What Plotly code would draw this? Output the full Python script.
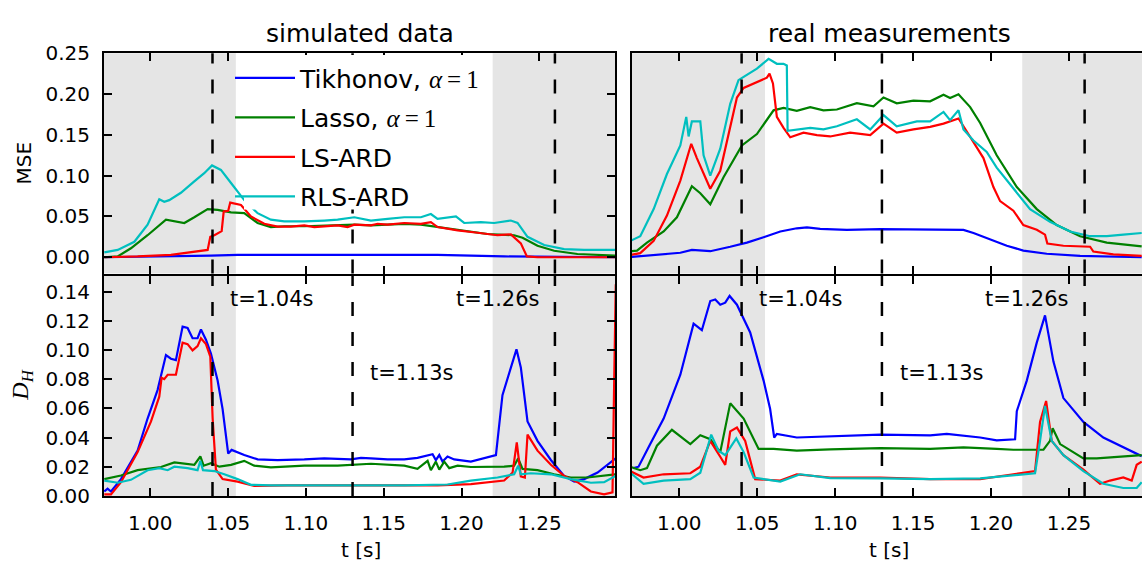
import plotly.graph_objects as go

# ---------------- data ----------------
# simulated data, MSE
sim_mse_tik_t = [0.9705, 1.0133, 1.0390, 1.0561, 1.1204, 1.1846, 1.2274, 1.2991]
sim_mse_tik_v = [0.0, 0.001, 0.002, 0.003, 0.003, 0.003, 0.001, 0.0]

sim_mse_las_t = [0.9705, 0.9791, 0.9876, 0.9983, 1.0101, 1.0155, 1.0219, 1.0283, 1.0369, 1.0433,
                 1.0519, 1.0604, 1.0690, 1.0775, 1.0861, 1.0990, 1.1118, 1.1204, 1.1311, 1.1418,
                 1.1525, 1.1632, 1.1739, 1.1846, 1.2017, 1.2167, 1.2338, 1.2392, 1.2488, 1.2595,
                 1.2745, 1.2991]
sim_mse_las_v = [0.000, 0.001, 0.011, 0.027, 0.046, 0.044, 0.042, 0.049, 0.059, 0.058,
                 0.055, 0.054, 0.042, 0.037, 0.038, 0.038, 0.039, 0.039, 0.040, 0.039,
                 0.040, 0.041, 0.040, 0.037, 0.032, 0.0285, 0.027, 0.024, 0.014, 0.008,
                 0.004, 0.002]

sim_mse_ls_t = [0.9705, 0.9919, 1.0133, 1.0262, 1.0369, 1.0386, 1.0412, 1.0459, 1.0472, 1.0501,
                1.0514, 1.0583, 1.0647, 1.0733, 1.0818, 1.0904, 1.0990, 1.1054, 1.1118, 1.1204,
                1.1268, 1.1311, 1.1418, 1.1461, 1.1525, 1.1632, 1.1739, 1.1803, 1.1846, 1.1975,
                1.2103, 1.2231, 1.2317, 1.2381, 1.2420, 1.2488, 1.2991]
sim_mse_ls_v = [0.000, 0.001, 0.003, 0.006, 0.009, 0.025, 0.027, 0.032, 0.056, 0.057,
                0.067, 0.064, 0.050, 0.041, 0.0375, 0.0375, 0.039, 0.037, 0.038, 0.039,
                0.037, 0.040, 0.039, 0.041, 0.040, 0.042, 0.041, 0.043, 0.037, 0.033,
                0.030, 0.027, 0.028, 0.017, 0.001, 0.000, 0.000]

sim_mse_rls_t = [0.9705, 0.9791, 0.9898, 0.9983, 1.0058, 1.0090, 1.0122, 1.0197, 1.0283, 1.0347,
                 1.0397, 1.0454, 1.0519, 1.0604, 1.0690, 1.0775, 1.0861, 1.0990, 1.1118, 1.1204,
                 1.1311, 1.1418, 1.1525, 1.1632, 1.1739, 1.1803, 1.1846, 1.1964, 1.2017, 1.2124,
                 1.2210, 1.2317, 1.2360, 1.2424, 1.2531, 1.2659, 1.2788, 1.2991]
sim_mse_rls_v = [0.006, 0.009, 0.019, 0.040, 0.071, 0.068, 0.070, 0.079, 0.093, 0.103,
                 0.1125, 0.107, 0.091, 0.070, 0.054, 0.046, 0.044, 0.044, 0.045, 0.046,
                 0.049, 0.045, 0.047, 0.049, 0.049, 0.053, 0.047, 0.050, 0.042, 0.043,
                 0.042, 0.045, 0.042, 0.025, 0.015, 0.010, 0.009, 0.009]

# simulated data, D_H
sim_dh_tik_t = [0.9705, 0.9726, 0.9748, 0.9812, 0.9919, 0.9983, 1.0047, 1.0101, 1.0133, 1.0165,
                1.0208, 1.0240, 1.0272, 1.0304, 1.0326, 1.0358, 1.0390, 1.0433, 1.0465, 1.0501,
                1.0523, 1.0604, 1.0690, 1.0818, 1.0990, 1.1118, 1.1289, 1.1354, 1.1418, 1.1525,
                1.1632, 1.1717, 1.1814, 1.1835, 1.1857, 1.1878, 1.1910, 1.1953, 1.2060, 1.2146,
                1.2221, 1.2263, 1.2317, 1.2353, 1.2381, 1.2424, 1.2488, 1.2574, 1.2659, 1.2724,
                1.2788, 1.2874, 1.2991]
sim_dh_tik_v = [0.003, 0.005, 0.003, 0.0115, 0.031, 0.053, 0.0725, 0.0965, 0.094, 0.093,
                0.116, 0.115, 0.108, 0.108, 0.114, 0.107, 0.0975, 0.079, 0.0595, 0.029,
                0.0315, 0.028, 0.025, 0.0245, 0.025, 0.0257, 0.025, 0.026, 0.0257, 0.025,
                0.025, 0.026, 0.0285, 0.0245, 0.028, 0.0235, 0.027, 0.025, 0.0235, 0.026,
                0.028, 0.069, 0.088, 0.1004, 0.088, 0.051, 0.0377, 0.0246, 0.0137, 0.0098,
                0.0115, 0.016, 0.0257]

sim_dh_las_t = [0.9705, 0.9812, 0.9919, 1.0005, 1.0069, 1.0155, 1.0219, 1.0283, 1.0322, 1.0343,
                1.0390, 1.0444, 1.0519, 1.0604, 1.0668, 1.0775, 1.0990, 1.1204, 1.1418, 1.1632,
                1.1717, 1.1782, 1.1803, 1.1835, 1.1857, 1.1889, 1.1921, 1.1975, 1.2060, 1.2274,
                1.2338, 1.2364, 1.2392, 1.2488, 1.2595, 1.2702, 1.2809, 1.2991]
sim_dh_las_v = [0.0115, 0.014, 0.0176, 0.019, 0.0198, 0.0229, 0.022, 0.0213, 0.027, 0.0207,
                0.0224, 0.020, 0.0213, 0.024, 0.0207, 0.0196, 0.0207, 0.0207, 0.022, 0.0207,
                0.0185, 0.024, 0.0176, 0.0235, 0.018, 0.0235, 0.019, 0.0207, 0.0198, 0.020,
                0.0207, 0.0257, 0.0185, 0.0176, 0.0148, 0.0126, 0.0126, 0.0148]

sim_dh_ls_t = [0.9705, 0.9748, 0.9812, 0.9919, 1.0005, 1.0058, 1.0073, 1.0090, 1.0112, 1.0165,
               1.0208, 1.0240, 1.0272, 1.0304, 1.0326, 1.0358, 1.0386, 1.0401, 1.0422, 1.0465,
               1.0561, 1.0668, 1.0882, 1.1204, 1.1632, 1.1846, 1.2060, 1.2210, 1.2274, 1.2328,
               1.2355, 1.2381, 1.2407, 1.2424, 1.2488, 1.2574, 1.2659, 1.2745, 1.2831, 1.2916,
               1.2970, 1.2981, 1.2991]
sim_dh_ls_v = [0.001, 0.001, 0.0094, 0.030, 0.051, 0.068, 0.081, 0.080, 0.083, 0.083,
               0.105, 0.104, 0.0997, 0.1026, 0.108, 0.104, 0.0954, 0.053, 0.018, 0.0115,
               0.0098, 0.0068, 0.0072, 0.0072, 0.0072, 0.0072, 0.008, 0.0094, 0.0105, 0.016,
               0.0366, 0.0133, 0.0126, 0.042, 0.031, 0.0213, 0.0137, 0.0094, 0.003, 0.001,
               0.0024, 0.08, 0.145]

sim_dh_rls_t = [0.9705, 0.9791, 0.9876, 0.9983, 1.0058, 1.0112, 1.0155, 1.0240, 1.0304, 1.0322,
                1.0339, 1.0412, 1.0476, 1.0561, 1.0647, 1.0775, 1.1204, 1.1632, 1.1910, 1.2060,
                1.2231, 1.2338, 1.2364, 1.2381, 1.2445, 1.2574, 1.2702, 1.2831, 1.2916, 1.2991]
sim_dh_rls_v = [0.0105, 0.009, 0.011, 0.0176, 0.019, 0.0176, 0.020, 0.019, 0.0176, 0.024,
                0.0176, 0.017, 0.0148, 0.0115, 0.0076, 0.0072, 0.0072, 0.0072, 0.0078, 0.0105,
                0.0126, 0.0148, 0.0207, 0.0148, 0.0155, 0.0148, 0.0115, 0.009, 0.0094, 0.0137]

# real measurements, MSE
real_mse_tik_t = [0.9686, 0.9900, 1.0007, 1.0081, 1.0199, 1.0327, 1.0434, 1.0541, 1.0648, 1.0754,
                  1.0819, 1.0904, 1.1075, 1.1289, 1.1502, 1.1823, 1.1887, 1.1994, 1.2101, 1.2207,
                  1.2357, 1.2571, 1.2966]
real_mse_tik_v = [0.0004, 0.0035, 0.0055, 0.009, 0.0074, 0.0129, 0.018, 0.0246, 0.0316, 0.0355,
                  0.0367, 0.0348, 0.0336, 0.0344, 0.0344, 0.0336, 0.0297, 0.0219, 0.0141, 0.0082,
                  0.0043, 0.0016, 0.0]

real_mse_las_t = [0.9686, 0.9729, 0.9793, 0.9900, 0.9985, 1.0081, 1.0135, 1.0199, 1.0284, 1.0402,
                  1.0498, 1.0605, 1.0669, 1.0754, 1.0840, 1.0925, 1.1011, 1.1139, 1.1246, 1.1310,
                  1.1395, 1.1502, 1.1609, 1.1695, 1.1737, 1.1791, 1.1866, 1.1930, 1.2036, 1.2165,
                  1.2293, 1.2421, 1.2571, 1.2742, 1.2966]
real_mse_las_v = [0.0074, 0.0082, 0.018, 0.0316, 0.049, 0.087, 0.0785, 0.065, 0.098, 0.137,
                  0.151, 0.180, 0.183, 0.1793, 0.184, 0.180, 0.181, 0.1887, 0.185, 0.1957,
                  0.1887, 0.1918, 0.191, 0.199, 0.195, 0.1996, 0.184, 0.1645, 0.125, 0.086,
                  0.059, 0.0395, 0.0258, 0.018, 0.0133]

real_mse_ls_t = [0.9686, 0.9750, 0.9836, 0.9921, 1.0007, 1.0077, 1.0113, 1.0199, 1.0263, 1.0327,
                 1.0370, 1.0413, 1.0498, 1.0562, 1.0579, 1.0601, 1.0626, 1.0669, 1.0712, 1.0797,
                 1.0883, 1.0968, 1.1096, 1.1225, 1.1310, 1.1395, 1.1502, 1.1609, 1.1695, 1.1791,
                 1.1823, 1.1887, 1.1951, 1.2015, 1.2058, 1.2143, 1.2207, 1.2293, 1.2346, 1.2361,
                 1.2464, 1.2635, 1.2656, 1.2784, 1.2966]
real_mse_ls_v = [0.003, 0.005, 0.020, 0.051, 0.094, 0.139, 0.1215, 0.084, 0.106, 0.1605,
                 0.1957, 0.2074, 0.215, 0.22, 0.225, 0.213, 0.172, 0.1586, 0.147, 0.1527,
                 0.1496, 0.148, 0.1527, 0.1496, 0.1637, 0.1527, 0.1566, 0.1598, 0.1637, 0.170,
                 0.1605, 0.141, 0.1215, 0.086, 0.0688, 0.057, 0.0395, 0.0336, 0.0277, 0.0168,
                 0.0141, 0.0129, 0.007, 0.0035, 0.0016]

real_mse_rls_t = [0.9686, 0.9750, 0.9836, 0.9921, 1.0007, 1.0045, 1.0060, 1.0081, 1.0135, 1.0156,
                  1.0199, 1.0263, 1.0327, 1.0380, 1.0413, 1.0498, 1.0573, 1.0626, 1.0669, 1.0690,
                  1.0695, 1.0754, 1.0840, 1.0925, 1.1011, 1.1139, 1.1225, 1.1310, 1.1395, 1.1524,
                  1.1609, 1.1695, 1.1737, 1.1791, 1.1823, 1.1887, 1.1972, 1.2036, 1.2101, 1.2165,
                  1.2250, 1.2378, 1.2507, 1.2635, 1.2742, 1.2848, 1.2966]
real_mse_rls_v = [0.020, 0.0258, 0.059, 0.102, 0.137, 0.172, 0.148, 0.1664, 0.1664, 0.125,
                  0.100, 0.133, 0.188, 0.217, 0.221, 0.231, 0.243, 0.237, 0.237, 0.235,
                  0.155, 0.1566, 0.1586, 0.1566, 0.1605, 0.169, 0.1566, 0.1742, 0.1605, 0.1664,
                  0.1664, 0.178, 0.168, 0.180, 0.1566, 0.143, 0.129, 0.1098, 0.094, 0.0785,
                  0.059, 0.0434, 0.0316, 0.0258, 0.0258, 0.0277, 0.0297]

# real measurements, D_H
real_dh_tik_t = [0.9707, 0.9739, 0.9814, 0.9900, 1.0007, 1.0092, 1.0145, 1.0199, 1.0231, 1.0263,
                 1.0295, 1.0323, 1.0370, 1.0455, 1.0541, 1.0583, 1.0609, 1.0626, 1.0754, 1.0968,
                 1.1289, 1.1609, 1.1716, 1.1930, 1.2036, 1.2154, 1.2165, 1.2229, 1.2293, 1.2346,
                 1.2400, 1.2464, 1.2592, 1.2720, 1.2848, 1.2966]
real_dh_tik_v = [0.019, 0.020, 0.0355, 0.053, 0.083, 0.118, 0.1135, 0.1335, 0.1346, 0.131,
                 0.1324, 0.137, 0.131, 0.112, 0.079, 0.0595, 0.040, 0.0425, 0.040, 0.041,
                 0.042, 0.0414, 0.0425, 0.040, 0.038, 0.0388, 0.058, 0.079, 0.105, 0.1237,
                 0.092, 0.067, 0.0507, 0.040, 0.0333, 0.0272]

real_dh_las_t = [0.9686, 0.9750, 0.9793, 0.9857, 0.9953, 1.0071, 1.0135, 1.0199, 1.0263, 1.0327,
                 1.0413, 1.0509, 1.0605, 1.0754, 1.0968, 1.1289, 1.1609, 1.1823, 1.2036, 1.2143,
                 1.2336, 1.2378, 1.2395, 1.2443, 1.2592, 1.2678, 1.2966]
real_dh_las_v = [0.020, 0.0176, 0.019, 0.0344, 0.0453, 0.0355, 0.0416, 0.0388, 0.030, 0.0634,
                 0.053, 0.0322, 0.0322, 0.031, 0.0318, 0.0327, 0.0322, 0.0333, 0.0322, 0.0316,
                 0.0316, 0.0377, 0.0464, 0.0355, 0.0257, 0.0257, 0.0279]

real_dh_ls_t = [0.9686, 0.9771, 0.9900, 1.0071, 1.0135, 1.0199, 1.0263, 1.0295, 1.0327, 1.0370,
                1.0423, 1.0487, 1.0648, 1.0754, 1.0968, 1.1289, 1.1609, 1.1930, 1.2143, 1.2282,
                1.2314, 1.2353, 1.2389, 1.2464, 1.2592, 1.2699, 1.2763, 1.2848, 1.2902, 1.2934,
                1.2966]
real_dh_ls_v = [0.017, 0.0126, 0.0148, 0.0155, 0.020, 0.0377, 0.0268, 0.0213, 0.0442, 0.0468,
                0.0377, 0.0115, 0.0105, 0.0148, 0.0126, 0.0126, 0.0115, 0.0115, 0.0148, 0.017,
                0.0507, 0.065, 0.0377, 0.0279, 0.018, 0.0083, 0.0105, 0.0126, 0.0105, 0.0213,
                0.0235]

real_dh_rls_t = [0.9686, 0.9771, 0.9900, 1.0071, 1.0135, 1.0205, 1.0252, 1.0295, 1.0366, 1.0413,
                 1.0477, 1.0648, 1.0776, 1.0968, 1.1289, 1.1609, 1.1930, 1.2143, 1.2282, 1.2314,
                 1.2346, 1.2389, 1.2464, 1.2592, 1.2720, 1.2848, 1.2934, 1.2966]
real_dh_rls_v = [0.0159, 0.0083, 0.0105, 0.0115, 0.0159, 0.042, 0.031, 0.0279, 0.0394, 0.030,
                 0.0126, 0.0098, 0.0148, 0.0122, 0.012, 0.0115, 0.012, 0.0142, 0.0155, 0.0377,
                 0.0616, 0.0377, 0.0279, 0.017, 0.0083, 0.0054, 0.0054, 0.0094]

series_names = ["Tikhonov, <span style='font-family:Liberation Serif'><i>α</i>\u2009=\u20091</span>",
                "Lasso, <span style='font-family:Liberation Serif'><i>α</i>\u2009=\u20091</span>",
                "LS-ARD", "RLS-ARD"]
series_colors = ["#0000ff", "#008000", "#ff0000", "#00bfbf"]

marker_times = [1.04, 1.13, 1.26]
marker_labels = ["t=1.04s", "t=1.13s", "t=1.26s"]
label_x = [1.05, 1.14, 1.195]
label_y = [0.1346, 0.0843, 0.1346]
shade_end_left = 1.055
shade_start_right = 1.22

col_titles = ["simulated data", "real measurements"]
x_ticks = [1.00, 1.05, 1.10, 1.15, 1.20, 1.25]
mse_ticks = [0.00, 0.05, 0.10, 0.15, 0.20, 0.25]
dh_ticks = [0.00, 0.02, 0.04, 0.06, 0.08, 0.10, 0.12, 0.14]

# ---------------- figure ----------------
W, H = 1142, 574
FONT = "DejaVu Sans"
fig = go.Figure()

panels = {
    ("x", "y"): [(sim_mse_tik_t, sim_mse_tik_v), (sim_mse_las_t, sim_mse_las_v),
                 (sim_mse_ls_t, sim_mse_ls_v), (sim_mse_rls_t, sim_mse_rls_v)],
    ("x2", "y2"): [(real_mse_tik_t, real_mse_tik_v), (real_mse_las_t, real_mse_las_v),
                   (real_mse_ls_t, real_mse_ls_v), (real_mse_rls_t, real_mse_rls_v)],
    ("x3", "y3"): [(sim_dh_tik_t, sim_dh_tik_v), (sim_dh_las_t, sim_dh_las_v),
                   (sim_dh_ls_t, sim_dh_ls_v), (sim_dh_rls_t, sim_dh_rls_v)],
    ("x4", "y4"): [(real_dh_tik_t, real_dh_tik_v), (real_dh_las_t, real_dh_las_v),
                   (real_dh_ls_t, real_dh_ls_v), (real_dh_rls_t, real_dh_rls_v)],
}

for (xa, ya), series in panels.items():
    for i, (t, v) in enumerate(series):
        fig.add_trace(go.Scatter(
            x=t, y=v, mode="lines", xaxis=xa, yaxis=ya,
            name=series_names[i], legendgroup="g%d" % i,
            line=dict(color=series_colors[i], width=2.2),
            showlegend=(xa == "x"), hoverinfo="skip"))

xl = [104 / W, 615 / W]
xr = [632 / W, 1.0]
yt = [(H - 273) / H, (H - 43) / H]
yb = [(H - 505) / H, (H - 275) / H]
rng_l = [0.9703, 1.2986]
rng_r = [0.9697, 1.2968]

axis_common = dict(showline=True, linecolor="black", linewidth=2, ticks="inside",
                   ticklen=8, tickwidth=1.5, tickcolor="black", showgrid=False,
                   zeroline=False, ticklabelstandoff=8,
                   tickfont=dict(family=FONT, size=20, color="black"))

fig.update_layout(
    width=W, height=H, margin=dict(l=0, r=0, t=0, b=0),
    paper_bgcolor="white", plot_bgcolor="white",
    font=dict(family=FONT, color="black"),
    xaxis=dict(domain=xl, range=rng_l, anchor="y", tickvals=x_ticks, showticklabels=False,
               mirror="ticks", **axis_common),
    xaxis2=dict(domain=xr, range=rng_r, anchor="y2", tickvals=x_ticks, showticklabels=False,
                mirror="ticks", **axis_common),
    xaxis3=dict(domain=xl, range=rng_l, anchor="y3", tickvals=x_ticks, tickformat=".2f",
                mirror="ticks", **axis_common),
    xaxis4=dict(domain=xr, range=rng_r, anchor="y4", tickvals=x_ticks, tickformat=".2f",
                mirror="ticks", **axis_common),
    yaxis=dict(domain=yt, range=[-0.02, 0.25], anchor="x", tickvals=mse_ticks,
               tickformat=".2f", mirror="ticks", **axis_common),
    yaxis2=dict(domain=yt, range=[-0.02, 0.25], anchor="x2", tickvals=mse_ticks,
                showticklabels=False, **{**axis_common, "ticks": ""}),
    yaxis3=dict(domain=yb, range=[0, 0.151], anchor="x3", tickvals=dh_ticks,
                tickformat=".2f", mirror="ticks", **axis_common),
    yaxis4=dict(domain=yb, range=[0, 0.151], anchor="x4", tickvals=dh_ticks,
                showticklabels=False, **{**axis_common, "ticks": ""}),
    legend=dict(x=230 / W, y=(H - 45) / H, xanchor="left", yanchor="top",
                bgcolor="rgba(0,0,0,0)", borderwidth=0,
                font=dict(family=FONT, size=25, color="black"),
                itemwidth=60, traceorder="grouped", tracegroupgap=4),
)

shapes = []
for xa, ya, rng in [("x", "y", rng_l), ("x2", "y2", rng_r), ("x3", "y3", rng_l), ("x4", "y4", rng_r)]:
    shapes.append(dict(type="rect", xref=xa, yref=ya + " domain", x0=rng[0], x1=shade_end_left,
                       y0=0, y1=1, fillcolor="#e5e5e5", line=dict(width=0), layer="below"))
    shapes.append(dict(type="rect", xref=xa, yref=ya + " domain", x0=shade_start_right, x1=rng[1],
                       y0=0, y1=1, fillcolor="#e5e5e5", line=dict(width=0), layer="below"))
    for mt in marker_times:
        shapes.append(dict(type="line", xref=xa, yref=ya + " domain", x0=mt, x1=mt, y0=0, y1=1,
                           line=dict(color="black", width=2.5, dash="14px,16px"), layer="above"))
# white legend frame (drawn behind legend entries, above the dashed lines)
shapes.append(dict(type="rect", xref="paper", yref="paper", x0=244 / W, x1=490 / W,
                   y0=(H - 206) / H, y1=(H - 45) / H, fillcolor="white",
                   line=dict(width=0), layer="above"))
fig.update_layout(shapes=shapes)

ann = []
for xa, ya in [("x3", "y3"), ("x4", "y4")]:
    for lab, lx, ly in zip(marker_labels, label_x, label_y):
        ann.append(dict(x=lx, y=ly, xref=xa, yref=ya, text=lab, showarrow=False,
                        xanchor="left", yanchor="middle",
                        font=dict(family=FONT, size=21, color="black")))
ann.append(dict(x=359.5 / W, y=(H - 22) / H, xref="paper", yref="paper", text=col_titles[0],
                showarrow=False, xanchor="center", yanchor="middle",
                font=dict(family=FONT, size=25, color="black")))
ann.append(dict(x=889.5 / W, y=(H - 22) / H, xref="paper", yref="paper", text=col_titles[1],
                showarrow=False, xanchor="center", yanchor="middle",
                font=dict(family=FONT, size=25, color="black")))
ann.append(dict(x=24 / W, y=(H - 158) / H, xref="paper", yref="paper", text="MSE", textangle=-90,
                showarrow=False, xanchor="center", yanchor="middle",
                font=dict(family=FONT, size=20, color="black")))
ann.append(dict(x=22 / W, y=(H - 390) / H, xref="paper", yref="paper",
                text="<i>D<sub>H</sub></i>", textangle=-90,
                showarrow=False, xanchor="center", yanchor="middle",
                font=dict(family="Liberation Serif", size=24, color="black")))
ann.append(dict(x=361 / W, y=(H - 561) / H, xref="paper", yref="paper", text="t [s]",
                showarrow=False, xanchor="center", yanchor="middle",
                font=dict(family=FONT, size=20, color="black")))
ann.append(dict(x=889 / W, y=(H - 561) / H, xref="paper", yref="paper", text="t [s]",
                showarrow=False, xanchor="center", yanchor="middle",
                font=dict(family=FONT, size=20, color="black")))
fig.update_layout(annotations=ann)

fig.write_html("out.html")
